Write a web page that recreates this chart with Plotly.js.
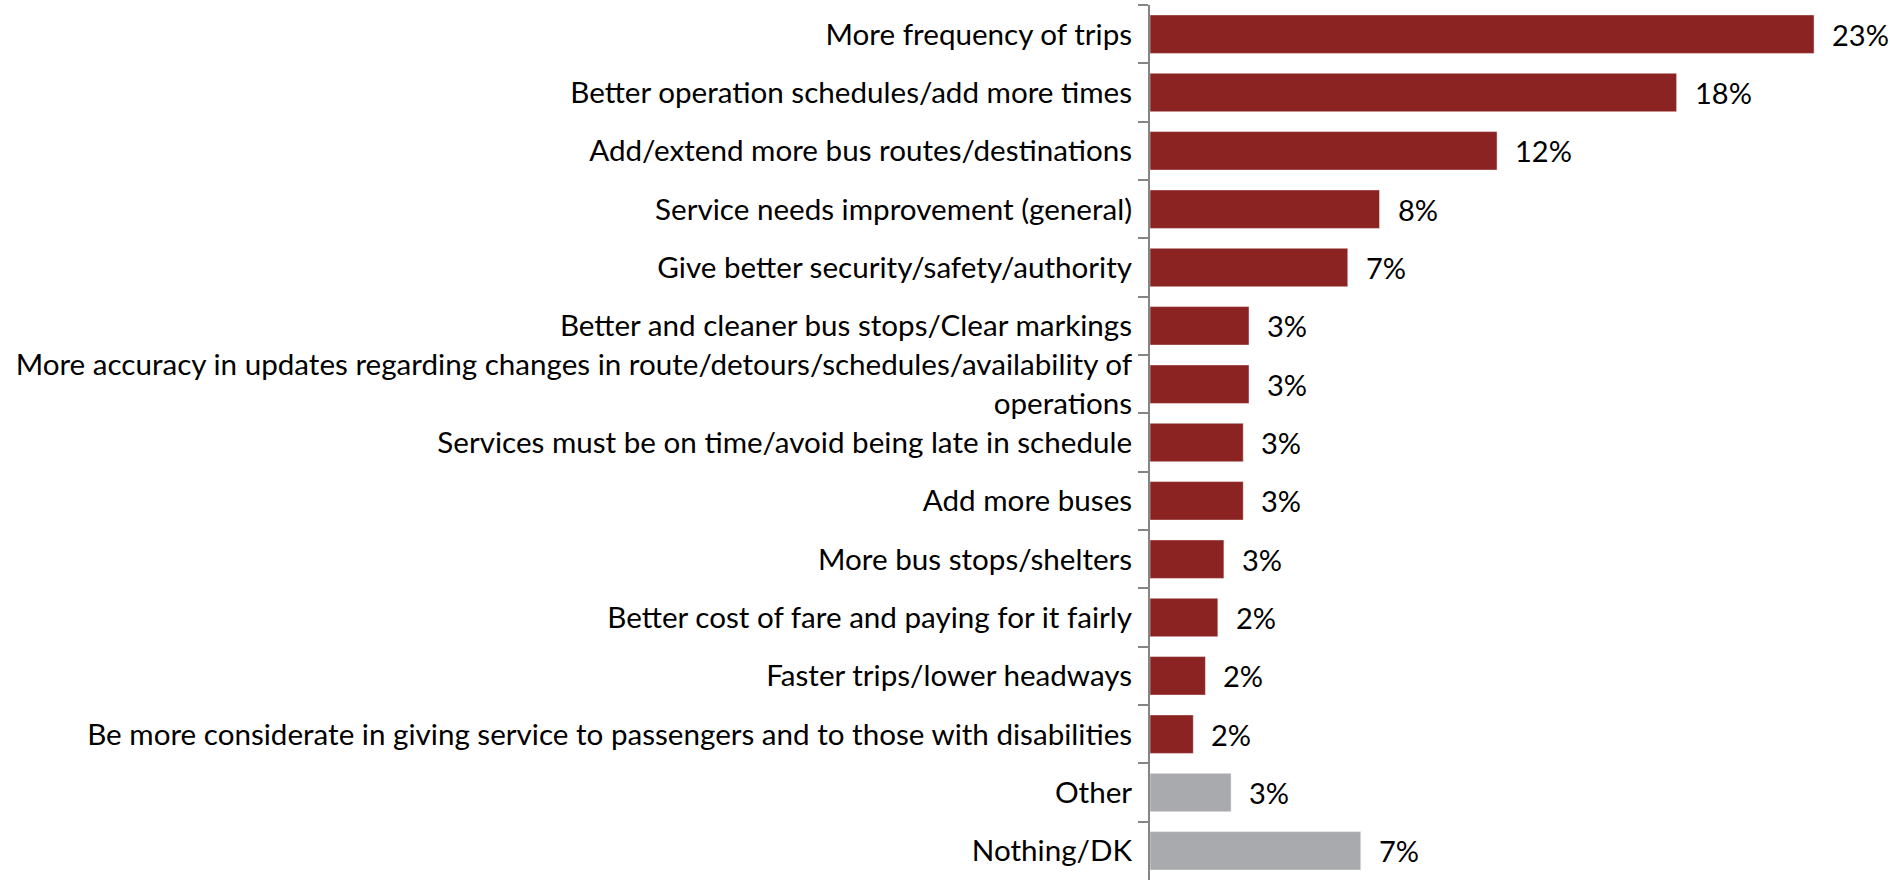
<!DOCTYPE html>
<html>
<head>
<meta charset="utf-8">
<script src="https://cdn.plot.ly/plotly-3.0.1.min.js"></script>
<style>html,body{margin:0;padding:0;background:#fff;}#chart{width:1890px;height:880px;}</style>
</head>
<body>
<div id="chart"></div>
<script>
const categories = [
  "More frequency of trips",
  "Better operation schedules/add more times",
  "Add/extend more bus routes/destinations",
  "Service needs improvement (general)",
  "Give better security/safety/authority",
  "Better and cleaner bus stops/Clear markings",
  "More accuracy in updates regarding changes in route/detours/schedules/availability of<br>operations",
  "Services must be on time/avoid being late in schedule",
  "Add more buses",
  "More bus stops/shelters",
  "Better cost of fare and paying for it fairly",
  "Faster trips/lower headways",
  "Be more considerate in giving service to passengers and to those with disabilities",
  "Other",
  "Nothing/DK"
];
const values = [23.0, 18.24, 12.02, 7.95, 6.85, 3.43, 3.43, 3.23, 3.23, 2.56, 2.35, 1.92, 1.50, 2.81, 7.30];
const valueLabels = ["23%", "18%", "12%", "8%", "7%", "3%", "3%", "3%", "3%", "3%", "2%", "2%", "2%", "3%", "7%"];
const groups = ["main","main","main","main","main","main","main","main","main","main","main","main","main","other","other"];

const colorMap = {main: "#8C2323", other: "#A9AAAD"};
const FONT = "Lato, 'DejaVu Sans Condensed', sans-serif";

const trace = {
  type: "bar",
  orientation: "h",
  x: values,
  y: categories,
  marker: {color: groups.map(g => colorMap[g]), line: {color: "rgba(255,255,255,0.45)", width: 1}},
  hoverinfo: "skip"
};

const annotations = values.map((v, i) => ({
  x: v, y: categories[i], xref: "x", yref: "y",
  text: valueLabels[i], showarrow: false,
  xanchor: "left", yanchor: "middle", xshift: 16,
  font: {family: FONT, size: 29, color: "#000"}
}));

const layout = {
  width: 1890,
  height: 880,
  margin: {l: 1150, r: 0, t: 5, b: 0},
  paper_bgcolor: "#fff",
  plot_bgcolor: "#fff",
  showlegend: false,
  bargap: 0.34,
  annotations: annotations,
  xaxis: {range: [0, 25.63], visible: false, fixedrange: true},
  yaxis: {
    type: "category",
    autorange: "reversed",
    tickson: "boundaries",
    ticks: "outside",
    ticklen: 10,
    tickwidth: 2,
    tickcolor: "#858585",
    showline: true,
    linecolor: "#858585",
    linewidth: 2,
    showgrid: false,
    zeroline: false,
    ticklabelstandoff: 10,
    tickfont: {family: FONT, size: 29.6, color: "#000"},
    automargin: false
  },
  font: {family: FONT}
};

Plotly.newPlot("chart", [trace], layout, {displayModeBar: false, staticPlot: true});
</script>
</body>
</html>
